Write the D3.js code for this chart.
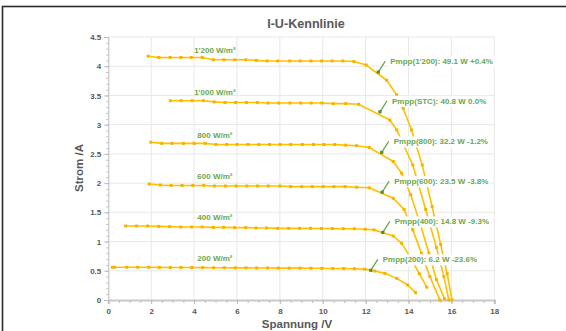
<!DOCTYPE html>
<html>
<head>
<meta charset="utf-8">
<script src="https://cdn.jsdelivr.net/npm/d3@7"></script>
<style>
  body { margin: 0; background: #fff; }
  svg { display: block; font-family: "Liberation Sans", Arial, sans-serif; }
</style>
</head>
<body>
<svg id="chart" width="566" height="331"></svg>
<script>
// irradiance levels
const levels = ["1'200 W/m²", "1'000 W/m²", "800 W/m²", "600 W/m²", "400 W/m²", "200 W/m²"];

// measured points [U, I] per curve
const curve1200 = [[1.86,4.17],[2.36,4.15],[2.88,4.15],[3.39,4.15],[3.87,4.15],[4.38,4.15],[4.90,4.11],[5.39,4.11],[5.90,4.11],[6.41,4.11],[6.90,4.10],[7.40,4.09],[7.90,4.09],[8.46,4.09],[8.95,4.09],[9.45,4.09],[9.95,4.09],[10.44,4.09],[10.94,4.09],[11.45,4.08],[12.03,4.02],[12.98,3.76],[13.45,3.51],[13.75,3.28],[14.14,2.91],[14.64,2.31],[15.10,1.60],[15.50,0.95],[15.80,0.45],[16.03,0.0]];
const curve1000 = [[2.89,3.41],[3.40,3.41],[3.91,3.41],[4.43,3.41],[4.94,3.39],[5.44,3.38],[5.94,3.38],[6.44,3.38],[6.95,3.38],[7.45,3.37],[7.95,3.37],[8.47,3.37],[8.97,3.37],[9.46,3.37],[9.96,3.37],[10.49,3.36],[11.07,3.36],[11.67,3.35],[13.13,3.08],[13.45,2.91],[14.20,2.31],[14.80,1.55],[15.30,0.90],[15.65,0.40],[15.88,0.0]];
const curve800 = [[1.98,2.70],[2.49,2.68],[2.98,2.68],[3.50,2.68],[4.01,2.68],[4.52,2.68],[5.02,2.66],[5.52,2.66],[6.01,2.66],[6.51,2.66],[7.02,2.66],[7.52,2.66],[8.01,2.66],[8.51,2.66],[9.05,2.66],[9.57,2.66],[10.06,2.66],[10.56,2.66],[11.07,2.65],[11.58,2.64],[12.17,2.61],[13.29,2.37],[13.68,2.17],[14.10,1.80],[14.55,1.30],[14.95,0.80],[15.30,0.35],[15.68,0.02]];
const curve600 = [[1.91,1.985],[2.43,1.967],[2.93,1.96],[3.44,1.96],[3.94,1.96],[4.45,1.96],[4.95,1.95],[5.46,1.95],[5.96,1.95],[6.46,1.95],[6.96,1.95],[7.46,1.95],[8.00,1.95],[8.50,1.94],[9.02,1.94],[9.51,1.94],[10.02,1.94],[10.52,1.94],[11.04,1.94],[11.58,1.93],[12.17,1.92],[13.29,1.74],[13.79,1.55],[14.20,1.20],[14.60,0.80],[15.00,0.40],[15.46,0.0]];
const curve400 = [[0.81,1.266],[1.32,1.266],[1.84,1.266],[2.35,1.26],[2.86,1.255],[3.38,1.249],[3.89,1.249],[4.38,1.249],[4.90,1.243],[5.38,1.243],[5.89,1.238],[6.41,1.238],[6.89,1.232],[7.38,1.232],[7.90,1.226],[8.41,1.226],[8.92,1.226],[9.43,1.226],[9.94,1.224],[10.45,1.222],[10.96,1.22],[11.47,1.218],[11.98,1.21],[12.39,1.20],[13.29,1.095],[13.68,0.97],[14.10,0.72],[14.50,0.45],[14.85,0.22]];
const curve200 = [[0.19,0.56],[0.30,0.56],[0.86,0.56],[1.37,0.56],[1.88,0.56],[2.38,0.558],[2.89,0.556],[3.39,0.556],[3.90,0.556],[4.40,0.554],[4.91,0.552],[5.41,0.552],[5.92,0.55],[6.42,0.55],[6.92,0.548],[7.43,0.548],[7.93,0.546],[8.44,0.545],[8.94,0.545],[9.45,0.543],[9.96,0.542],[10.47,0.54],[10.98,0.538],[11.48,0.535],[11.96,0.528],[12.43,0.496],[12.90,0.456],[13.45,0.37],[13.96,0.257],[14.33,0.125]];
const curves = [curve1200, curve1000, curve800, curve600, curve400, curve200];

// maximum power points and their labels
const mppU = [12.59, 12.67, 12.75, 12.77, 12.80, 12.24];
const mppI = [3.90, 3.22, 2.525, 1.845, 1.156, 0.508];
const mppLabels = ["Pmpp(1'200): 49.1 W +0.4%", "Pmpp(STC): 40.8 W 0.0%", "Pmpp(800): 32.2 W -1.2%",
                   "Pmpp(600): 23.5 W -3.8%", "Pmpp(400): 14.8 W -9.3%", "Pmpp(200): 6.2 W -23.6%"];

const xTicks = [0, 2, 4, 6, 8, 10, 12, 14, 16, 18];
const yTicks = [0, 0.5, 1, 1.5, 2, 2.5, 3, 3.5, 4, 4.5];

const svg = d3.select("#chart");
const plotLeft = 108.3, plotRight = 494.3, plotTop = 37, plotBottom = 300;
const orange = "#FFC000", green = "#6AA84F", grey = "#595959";

const x = d3.scaleLinear().domain([0, 18]).range([plotLeft, plotRight]);
const y = d3.scaleLinear().domain([0, 4.5]).range([plotBottom, plotTop]);

svg.append("rect").attr("width", 566).attr("height", 331).attr("fill", "#fff");
// outer frame
svg.append("rect")
  .attr("x", 2.5).attr("y", 6.5).attr("width", 700).attr("height", 400)
  .attr("fill", "none").attr("stroke", "#2a2a2a").attr("stroke-width", 1.6);

// grid
svg.append("g").selectAll("line").data(xTicks.slice(1)).join("line")
  .attr("x1", d => x(d)).attr("x2", d => x(d)).attr("y1", plotTop).attr("y2", plotBottom)
  .attr("stroke", "#e8e8e8");
svg.append("g").selectAll("line").data(yTicks.slice(1)).join("line")
  .attr("x1", plotLeft).attr("x2", plotRight).attr("y1", d => y(d)).attr("y2", d => y(d))
  .attr("stroke", "#e8e8e8");

// y axis with minor ticks
const yMinor = svg.append("g").attr("transform", `translate(${plotLeft},0)`)
  .call(d3.axisLeft(y).ticks(45).tickSize(2).tickFormat(""));
yMinor.select(".domain").remove();
yMinor.selectAll("line").attr("stroke", "#bbb");
const yAxis = svg.append("g").attr("transform", `translate(${plotLeft},0)`)
  .call(d3.axisLeft(y).tickValues(yTicks).tickSize(4).tickPadding(3).tickFormat(d3.format("")));
yAxis.select(".domain").attr("stroke", "#bbb");
yAxis.selectAll("line").attr("stroke", "#bbb");
yAxis.selectAll("text").attr("fill", grey).style("font-size", "8px").style("font-weight", "bold");

// x axis with minor ticks
const xMinor = svg.append("g").attr("transform", `translate(0,${plotBottom})`)
  .call(d3.axisBottom(x).ticks(36).tickSize(3).tickFormat(""));
xMinor.select(".domain").remove();
xMinor.selectAll("line").attr("stroke", "#bbb");
const xAxis = svg.append("g").attr("transform", `translate(0,${plotBottom})`)
  .call(d3.axisBottom(x).tickValues(xTicks).tickSize(4).tickPadding(4));
xAxis.select(".domain").attr("stroke", "#c8c8c8").attr("stroke-width", 2);
xAxis.selectAll("line").attr("stroke", "#bbb");
xAxis.selectAll("text").attr("fill", grey).style("font-size", "8px").style("font-weight", "bold");

// titles
svg.append("text").attr("x", 306).attr("y", 28).attr("text-anchor", "middle")
  .attr("fill", grey).style("font-size", "12.6px").style("font-weight", "bold").text("I-U-Kennlinie");
svg.append("text").attr("x", 297).attr("y", 328).attr("text-anchor", "middle")
  .attr("fill", grey).style("font-size", "11.5px").style("font-weight", "bold").text("Spannung /V");
svg.append("text").attr("transform", "translate(83,168) rotate(-90)").attr("text-anchor", "middle")
  .attr("fill", grey).style("font-size", "11.5px").style("font-weight", "bold").text("Strom /A");

// curves
const line = d3.line().x(d => x(d[0])).y(d => y(d[1]));
const cg = svg.append("g");
curves.forEach(c => {
  cg.append("path").attr("d", line(c)).attr("fill", "none")
    .attr("stroke", orange).attr("stroke-width", 1.6).attr("stroke-linejoin", "round");
  cg.append("g").selectAll("rect").data(c).join("rect")
    .attr("x", d => x(d[0]) - 1.5).attr("y", d => y(d[1]) - 1.5)
    .attr("width", 3).attr("height", 3).attr("fill", "#F5B400");
});

// irradiance labels
svg.append("g").selectAll("text").data(levels).join("text")
  .attr("x", x(4.97)).attr("y", (d, i) => y(curves[i][8][1]) - 7)
  .attr("text-anchor", "middle").attr("fill", green)
  .style("font-size", "8px").style("font-weight", "bold").text(d => d);

// MPP markers, leaders and labels (labels sit on a white box)
const mg = svg.append("g");
mppLabels.forEach((t, i) => {
  const px = x(mppU[i]), py = y(mppI[i]);
  mg.append("line").attr("x1", px).attr("y1", py).attr("x2", px + 7).attr("y2", py - 11)
    .attr("stroke", green).attr("stroke-width", 1.3);
  mg.append("rect").attr("x", px - 1.6).attr("y", py - 1.6).attr("width", 3.2).attr("height", 3.2)
    .attr("fill", "#4E8F3A");
  const bg = mg.append("rect").attr("fill", "#fff");
  const txt = mg.append("text").attr("x", px + 12).attr("y", py - 8)
    .attr("fill", green).style("font-size", "8px").style("font-weight", "bold").text(t);
  const b = txt.node().getBBox();
  bg.attr("x", b.x - 2).attr("y", b.y - 1).attr("width", b.width + 4).attr("height", b.height + 2);
});
</script>
</body>
</html>
